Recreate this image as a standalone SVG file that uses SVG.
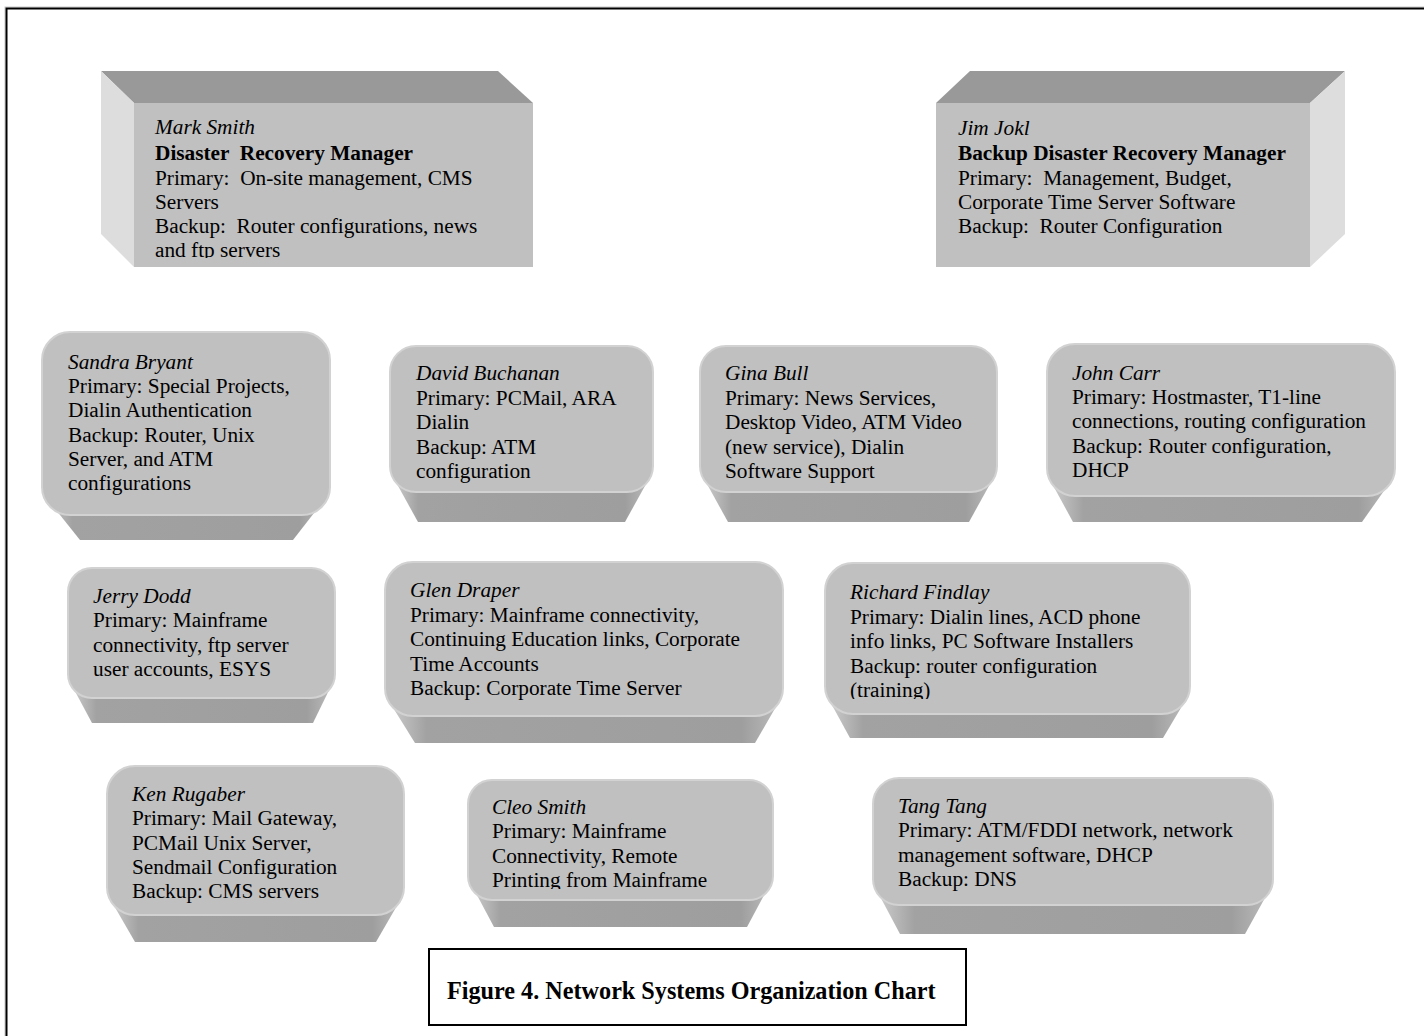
<svg xmlns="http://www.w3.org/2000/svg" width="1424" height="1036" viewBox="0 0 1424 1036">
<style>
  .t{font-family:"Liberation Serif","Times New Roman",serif;font-size:21.3px;fill:#000;white-space:pre}
  .n{font-style:italic}
  .b{font-weight:bold}
  .face{fill:#c0c0c0;stroke:#d2d2d2;stroke-width:2}
  .bev{fill:url(#bevG)}
  .top{fill:#999999}
  .side{fill:#dddddd}
  .cap{font-family:"Liberation Serif","Times New Roman",serif;font-size:24.2px;font-weight:bold}
</style>
<defs>
  <linearGradient id="bevG" x1="0" y1="0" x2="1" y2="0">
    <stop offset="0" stop-color="#cfcfcf"/>
    <stop offset="0.1" stop-color="#a2a2a2"/>
    <stop offset="0.9" stop-color="#9e9e9e"/>
    <stop offset="1" stop-color="#bdbdbd"/>
  </linearGradient>
  <clipPath id="cMark"><rect x="134" y="103" width="399" height="155"/></clipPath>
  <clipPath id="cRich"><rect x="825" y="563" width="365" height="136"/></clipPath>
  <clipPath id="cCleo"><rect x="468" y="780" width="305" height="109"/></clipPath>
</defs>
<rect x="0" y="0" width="1424" height="1036" fill="#ffffff"/>
<rect x="5" y="7" width="1440" height="1050" fill="none" stroke="#c8c8c8" stroke-width="1"/>
<rect x="6.5" y="8.5" width="1440" height="1050" fill="none" stroke="#000" stroke-width="2"/>

<g id="connectors"></g>

<g id="mark-smith">
  <polygon class="top" points="101,71 498,71 533,103 134,103"/>
  <polygon class="side" points="101,71 134,103 134,267 101,234"/>
  <rect x="134" y="103" width="399" height="164" fill="#c0c0c0"/>
  <g clip-path="url(#cMark)">
  <text class="t" x="155" y="134"><tspan class="n">Mark Smith</tspan><tspan class="b" x="155" dy="25.5">Disaster  Recovery Manager</tspan><tspan x="155" dy="25">Primary:  On-site management, CMS</tspan><tspan x="155" dy="24">Servers</tspan><tspan x="155" dy="24.5">Backup:  Router configurations, news</tspan><tspan x="155" dy="24">and ftp servers</tspan></text>
  </g>
</g>

<g id="jim-jokl">
  <polygon class="top" points="970,71 1345,71 1310,103 936,103"/>
  <polygon class="side" points="1310,103 1345,71 1345,234 1310,267"/>
  <rect x="936" y="103" width="374" height="164" fill="#c0c0c0"/>
  <text class="t" x="958" y="135"><tspan class="n">Jim Jokl</tspan><tspan class="b" x="958" dy="25">Backup Disaster Recovery Manager</tspan><tspan x="958" dy="24.5">Primary:  Management, Budget,</tspan><tspan x="958" dy="24">Corporate Time Server Software</tspan><tspan x="958" dy="24">Backup:  Router Configuration</tspan></text>
</g>

<g id="sandra-bryant">
  <path class="bev" d="M44,495 L80,540 L293,540 L328,495 Z"/>
  <rect class="face" x="42" y="332" width="288" height="183" rx="28"/>
  <text class="t" x="68" y="369"><tspan class="n">Sandra Bryant</tspan><tspan x="68" dy="24.2">Primary: Special Projects,</tspan><tspan x="68" dy="24.2">Dialin Authentication</tspan><tspan x="68" dy="24.2">Backup: Router, Unix</tspan><tspan x="68" dy="24.2">Server, and ATM</tspan><tspan x="68" dy="24.2">configurations</tspan></text>
</g>

<g id="david-buchanan">
  <path class="bev" d="M392,475 L418,522 L625,522 L651,475 Z"/>
  <rect class="face" x="390" y="346" width="263" height="146" rx="26"/>
  <text class="t" x="416" y="380"><tspan class="n">David Buchanan</tspan><tspan x="416" dy="24.5">Primary: PCMail, ARA</tspan><tspan x="416" dy="24.5">Dialin</tspan><tspan x="416" dy="24.5">Backup: ATM</tspan><tspan x="416" dy="24.5">configuration</tspan></text>
</g>

<g id="gina-bull">
  <path class="bev" d="M702,475 L728,522 L969,522 L995,475 Z"/>
  <rect class="face" x="700" y="346" width="297" height="146" rx="26"/>
  <text class="t" x="725" y="380"><tspan class="n">Gina Bull</tspan><tspan x="725" dy="24.5">Primary: News Services,</tspan><tspan x="725" dy="24.5">Desktop Video, ATM Video</tspan><tspan x="725" dy="24.5">(new service), Dialin</tspan><tspan x="725" dy="24.5">Software Support</tspan></text>
</g>

<g id="john-carr">
  <path class="bev" d="M1049,478 L1073,522 L1362,522 L1393,478 Z"/>
  <rect class="face" x="1047" y="344" width="348" height="152" rx="28"/>
  <text class="t" x="1072" y="380"><tspan class="n">John Carr</tspan><tspan x="1072" dy="24.2">Primary: Hostmaster, T1-line</tspan><tspan x="1072" dy="24.2">connections, routing configuration</tspan><tspan x="1072" dy="24.2">Backup: Router configuration,</tspan><tspan x="1072" dy="24.2">DHCP</tspan></text>
</g>

<g id="jerry-dodd">
  <path class="bev" d="M70,682 L92,723 L313,723 L333,682 Z"/>
  <rect class="face" x="68" y="568" width="267" height="130" rx="24"/>
  <text class="t" x="93" y="603"><tspan class="n">Jerry Dodd</tspan><tspan x="93" dy="24.3">Primary: Mainframe</tspan><tspan x="93" dy="24.3">connectivity, ftp server</tspan><tspan x="93" dy="24.3">user accounts, ESYS</tspan></text>
</g>

<g id="glen-draper">
  <path class="bev" d="M387,698 L415,743 L755,743 L781,698 Z"/>
  <rect class="face" x="385" y="562" width="398" height="154" rx="28"/>
  <text class="t" x="410" y="597"><tspan class="n">Glen Draper</tspan><tspan x="410" dy="24.5">Primary: Mainframe connectivity,</tspan><tspan x="410" dy="24.5">Continuing Education links, Corporate</tspan><tspan x="410" dy="24.5">Time Accounts</tspan><tspan x="410" dy="24.5">Backup: Corporate Time Server</tspan></text>
</g>

<g id="richard-findlay">
  <path class="bev" d="M827,696 L850,738 L1163,738 L1188,696 Z"/>
  <rect class="face" x="825" y="563" width="365" height="151" rx="28"/>
  <g clip-path="url(#cRich)">
  <text class="t" x="850" y="599"><tspan class="n">Richard Findlay</tspan><tspan x="850" dy="24.5">Primary: Dialin lines, ACD phone</tspan><tspan x="850" dy="24.5">info links, PC Software Installers</tspan><tspan x="850" dy="24.5">Backup: router configuration</tspan><tspan x="850" dy="24.5">(training)</tspan></text>
  </g>
</g>

<g id="ken-rugaber">
  <path class="bev" d="M109,897 L135,942 L376,942 L402,897 Z"/>
  <rect class="face" x="107" y="766" width="297" height="149" rx="28"/>
  <text class="t" x="132" y="801"><tspan class="n">Ken Rugaber</tspan><tspan x="132" dy="24.3">Primary: Mail Gateway,</tspan><tspan x="132" dy="24.3">PCMail Unix Server,</tspan><tspan x="132" dy="24.3">Sendmail Configuration</tspan><tspan x="132" dy="24.3">Backup: CMS servers</tspan></text>
</g>

<g id="cleo-smith">
  <path class="bev" d="M470,882 L494,927 L747,927 L771,882 Z"/>
  <rect class="face" x="468" y="780" width="305" height="120" rx="24"/>
  <g clip-path="url(#cCleo)">
  <text class="t" x="492" y="814"><tspan class="n">Cleo Smith</tspan><tspan x="492" dy="24.3">Primary: Mainframe</tspan><tspan x="492" dy="24.3">Connectivity, Remote</tspan><tspan x="492" dy="24.3">Printing from Mainframe</tspan></text>
  </g>
</g>

<g id="tang-tang">
  <path class="bev" d="M875,887 L900,934 L1245,934 L1271,887 Z"/>
  <rect class="face" x="873" y="778" width="400" height="127" rx="26"/>
  <text class="t" x="898" y="813"><tspan class="n">Tang Tang</tspan><tspan x="898" dy="24.3">Primary: ATM/FDDI network, network</tspan><tspan x="898" dy="24.3">management software, DHCP</tspan><tspan x="898" dy="24.3">Backup: DNS</tspan></text>
</g>

<g id="caption">
  <rect x="429" y="949" width="537" height="76" fill="#ffffff" stroke="#000" stroke-width="2"/>
  <text class="cap" x="447" y="999">Figure 4. Network Systems Organization Chart</text>
</g>
</svg>
